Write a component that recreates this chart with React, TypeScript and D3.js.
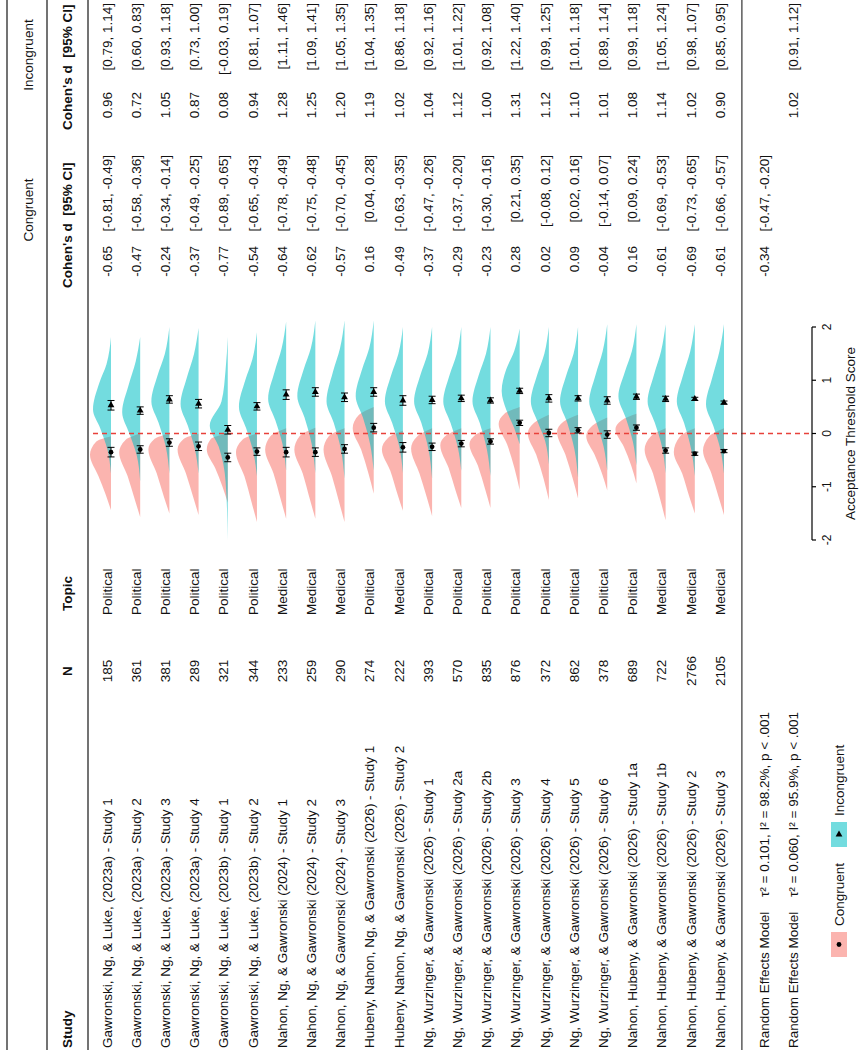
import React from "react";
import * as d3 from "d3";

const studies = [
  "Gawronski, Ng, & Luke, (2023a) - Study 1",
  "Gawronski, Ng, & Luke, (2023a) - Study 2",
  "Gawronski, Ng, & Luke, (2023a) - Study 3",
  "Gawronski, Ng, & Luke, (2023a) - Study 4",
  "Gawronski, Ng, & Luke, (2023b) - Study 1",
  "Gawronski, Ng, & Luke, (2023b) - Study 2",
  "Nahon, Ng, & Gawronski (2024) - Study 1",
  "Nahon, Ng, & Gawronski (2024) - Study 2",
  "Nahon, Ng, & Gawronski (2024) - Study 3",
  "Hubeny, Nahon, Ng, & Gawronski (2026) - Study 1",
  "Hubeny, Nahon, Ng, & Gawronski (2026) - Study 2",
  "Ng, Wurzinger, & Gawronski (2026) - Study 1",
  "Ng, Wurzinger, & Gawronski (2026) - Study 2a",
  "Ng, Wurzinger, & Gawronski (2026) - Study 2b",
  "Ng, Wurzinger, & Gawronski (2026) - Study 3",
  "Ng, Wurzinger, & Gawronski (2026) - Study 4",
  "Ng, Wurzinger, & Gawronski (2026) - Study 5",
  "Ng, Wurzinger, & Gawronski (2026) - Study 6",
  "Nahon, Hubeny, & Gawronski (2026) - Study 1a",
  "Nahon, Hubeny, & Gawronski (2026) - Study 1b",
  "Nahon, Hubeny, & Gawronski (2026) - Study 2",
  "Nahon, Hubeny, & Gawronski (2026) - Study 3",
];
const sampleN = [185, 361, 381, 289, 321, 344, 233, 259, 290, 274, 222, 393, 570, 835, 876, 372, 862, 378, 689, 722, 2766, 2105];
const topics = ["Political", "Political", "Political", "Political", "Political", "Political", "Medical", "Medical", "Medical", "Political", "Medical", "Political", "Political", "Political", "Political", "Political", "Political", "Political", "Political", "Medical", "Medical", "Medical"];

const congD = [-0.65, -0.47, -0.24, -0.37, -0.77, -0.54, -0.64, -0.62, -0.57, 0.16, -0.49, -0.37, -0.29, -0.23, 0.28, 0.02, 0.09, -0.04, 0.16, -0.61, -0.69, -0.61];
const congLo = [-0.81, -0.58, -0.34, -0.49, -0.89, -0.65, -0.78, -0.75, -0.70, 0.04, -0.63, -0.47, -0.37, -0.30, 0.21, -0.08, 0.02, -0.14, 0.09, -0.69, -0.73, -0.66];
const congHi = [-0.49, -0.36, -0.14, -0.25, -0.65, -0.43, -0.49, -0.48, -0.45, 0.28, -0.35, -0.26, -0.20, -0.16, 0.35, 0.12, 0.16, 0.07, 0.24, -0.53, -0.65, -0.57];
const incD = [0.96, 0.72, 1.05, 0.87, 0.08, 0.94, 1.28, 1.25, 1.20, 1.19, 1.02, 1.04, 1.12, 1.00, 1.31, 1.12, 1.10, 1.01, 1.08, 1.14, 1.02, 0.90];
const incLo = [0.79, 0.60, 0.93, 0.73, -0.03, 0.81, 1.11, 1.09, 1.05, 1.04, 0.86, 0.92, 1.01, 0.92, 1.22, 0.99, 1.01, 0.89, 0.99, 1.05, 0.98, 0.85];
const incHi = [1.14, 0.83, 1.18, 1.00, 0.19, 1.07, 1.46, 1.41, 1.35, 1.35, 1.18, 1.16, 1.22, 1.08, 1.40, 1.25, 1.18, 1.14, 1.18, 1.24, 1.07, 0.95];

// mean acceptance threshold scores (points) and half-width of their CI
const congMean = [-0.35, -0.30, -0.17, -0.24, -0.45, -0.34, -0.35, -0.35, -0.29, 0.11, -0.26, -0.25, -0.19, -0.15, 0.20, 0.01, 0.06, -0.02, 0.11, -0.32, -0.38, -0.33];
const incMean = [0.53, 0.43, 0.64, 0.56, 0.07, 0.51, 0.73, 0.78, 0.68, 0.78, 0.62, 0.63, 0.66, 0.62, 0.80, 0.66, 0.66, 0.62, 0.69, 0.65, 0.65, 0.58];
const congCI = [0.09, 0.07, 0.07, 0.08, 0.08, 0.07, 0.09, 0.08, 0.08, 0.08, 0.09, 0.07, 0.06, 0.05, 0.05, 0.07, 0.05, 0.07, 0.05, 0.05, 0.03, 0.03];
const incCI = [0.09, 0.07, 0.07, 0.08, 0.08, 0.07, 0.09, 0.08, 0.08, 0.08, 0.09, 0.07, 0.06, 0.05, 0.05, 0.07, 0.05, 0.07, 0.05, 0.05, 0.03, 0.03];

// density knots [score, relative height]
const incDensity = [
  [[1.81, 0], [1.3, 0.25], [0.95, 0.65], [0.45, 1], [0.1, 0.6], [-0.3, 0.2], [-0.75, 0]],
  [[1.81, 0], [1.35, 0.25], [0.9, 0.65], [0.4, 1], [0.0, 0.6], [-0.4, 0.2], [-0.9, 0]],
  [[2.0, 0], [1.5, 0.25], [1.1, 0.65], [0.6, 1], [0.2, 0.6], [-0.25, 0.2], [-0.75, 0]],
  [[1.98, 0], [1.5, 0.25], [1.05, 0.65], [0.55, 1], [0.15, 0.6], [-0.3, 0.2], [-0.75, 0]],
  [[1.81, 0], [1.2, 0.12], [0.6, 0.35], [0.15, 1], [-0.25, 0.5], [-0.9, 0.12], [-2.0, 0]],
  [[1.9, 0], [1.4, 0.25], [1.0, 0.65], [0.5, 1], [0.1, 0.6], [-0.35, 0.2], [-0.8, 0]],
  [[2.1, 0], [1.6, 0.25], [1.15, 0.65], [0.65, 1], [0.25, 0.6], [-0.2, 0.2], [-0.7, 0]],
  [[2.12, 0], [1.6, 0.25], [1.2, 0.65], [0.7, 1], [0.3, 0.6], [-0.2, 0.2], [-0.74, 0]],
  [[2.12, 0], [1.6, 0.25], [1.15, 0.65], [0.6, 1], [0.2, 0.6], [-0.3, 0.2], [-0.85, 0]],
  [[2.12, 0], [1.6, 0.25], [1.2, 0.65], [0.7, 1], [0.3, 0.6], [-0.2, 0.2], [-0.7, 0]],
  [[2.0, 0], [1.5, 0.25], [1.1, 0.65], [0.6, 1], [0.2, 0.6], [-0.25, 0.2], [-0.74, 0]],
  [[2.0, 0], [1.5, 0.25], [1.1, 0.65], [0.6, 1], [0.2, 0.6], [-0.3, 0.2], [-0.85, 0]],
  [[2.0, 0], [1.5, 0.25], [1.1, 0.65], [0.6, 1], [0.2, 0.6], [-0.25, 0.2], [-0.7, 0]],
  [[2.0, 0], [1.5, 0.25], [1.1, 0.65], [0.6, 1], [0.2, 0.6], [-0.3, 0.2], [-0.8, 0]],
  [[1.97, 0], [1.55, 0.3], [1.2, 0.75], [0.8, 1], [0.45, 0.75], [0.1, 0.3], [-0.2, 0]],
  [[2.0, 0], [1.5, 0.25], [1.1, 0.65], [0.6, 1], [0.2, 0.6], [-0.15, 0.2], [-0.58, 0]],
  [[2.0, 0], [1.5, 0.25], [1.1, 0.65], [0.6, 1], [0.2, 0.6], [-0.3, 0.2], [-0.83, 0]],
  [[2.05, 0], [1.55, 0.25], [1.1, 0.65], [0.6, 1], [0.2, 0.6], [-0.25, 0.2], [-0.7, 0]],
  [[2.05, 0], [1.55, 0.25], [1.15, 0.65], [0.7, 1], [0.3, 0.6], [-0.15, 0.2], [-0.6, 0]],
  [[2.05, 0], [1.55, 0.25], [1.1, 0.65], [0.6, 1], [0.2, 0.6], [-0.25, 0.2], [-0.75, 0]],
  [[2.05, 0], [1.55, 0.25], [1.1, 0.65], [0.6, 1], [0.2, 0.6], [-0.3, 0.2], [-0.8, 0]],
  [[2.05, 0], [1.55, 0.25], [1.05, 0.65], [0.55, 1], [0.15, 0.6], [-0.3, 0.2], [-0.75, 0]],
];
const congDensity = [
  [[-0.05, 0], [-0.15, 0.7], [-0.4, 1], [-0.8, 0.6], [-1.15, 0.25], [-1.44, 0]],
  [[0.0, 0], [-0.12, 0.7], [-0.35, 1], [-0.8, 0.6], [-1.25, 0.25], [-1.57, 0]],
  [[0.0, 0], [-0.1, 0.7], [-0.3, 1], [-0.75, 0.6], [-1.2, 0.25], [-1.5, 0]],
  [[0.0, 0], [-0.1, 0.7], [-0.3, 1], [-0.75, 0.6], [-1.2, 0.25], [-1.53, 0]],
  [[0.0, 0], [-0.1, 0.8], [-0.3, 1], [-0.65, 0.6], [-1.0, 0.25], [-1.3, 0]],
  [[0.0, 0], [-0.12, 0.7], [-0.35, 1], [-0.8, 0.6], [-1.3, 0.25], [-1.66, 0]],
  [[0.1, 0], [-0.05, 0.75], [-0.3, 1], [-0.75, 0.6], [-1.25, 0.25], [-1.6, 0]],
  [[0.11, 0], [-0.05, 0.75], [-0.3, 1], [-0.75, 0.6], [-1.25, 0.25], [-1.6, 0]],
  [[0.1, 0], [-0.05, 0.75], [-0.3, 1], [-0.8, 0.6], [-1.3, 0.25], [-1.66, 0]],
  [[0.5, 0], [0.35, 0.7], [0.1, 1], [-0.3, 0.6], [-0.75, 0.25], [-1.13, 0]],
  [[0.05, 0], [-0.08, 0.7], [-0.3, 1], [-0.7, 0.6], [-1.15, 0.25], [-1.45, 0]],
  [[0.1, 0], [-0.05, 0.7], [-0.28, 1], [-0.75, 0.6], [-1.2, 0.25], [-1.55, 0]],
  [[0.1, 0], [-0.03, 0.7], [-0.22, 1], [-0.65, 0.6], [-1.1, 0.25], [-1.4, 0]],
  [[0.1, 0], [-0.02, 0.7], [-0.2, 1], [-0.6, 0.6], [-1.05, 0.25], [-1.4, 0]],
  [[0.5, 0], [0.38, 0.7], [0.18, 1], [-0.2, 0.6], [-0.65, 0.25], [-1.06, 0]],
  [[0.35, 0], [0.2, 0.7], [0.0, 1], [-0.4, 0.6], [-0.85, 0.25], [-1.25, 0]],
  [[0.35, 0], [0.22, 0.7], [0.03, 1], [-0.4, 0.6], [-0.85, 0.25], [-1.22, 0]],
  [[0.3, 0], [0.15, 0.7], [-0.05, 1], [-0.4, 0.6], [-0.75, 0.25], [-1.07, 0]],
  [[0.37, 0], [0.25, 0.7], [0.08, 1], [-0.25, 0.6], [-0.6, 0.25], [-0.94, 0]],
  [[0.1, 0], [-0.05, 0.7], [-0.3, 1], [-0.75, 0.6], [-1.25, 0.25], [-1.63, 0]],
  [[0.1, 0], [-0.05, 0.7], [-0.35, 1], [-0.75, 0.6], [-1.2, 0.25], [-1.5, 0]],
  [[0.1, 0], [-0.05, 0.7], [-0.32, 1], [-0.75, 0.6], [-1.2, 0.25], [-1.53, 0]],
];

const reLabels = ["Random Effects Model", "Random Effects Model"];
const reStats = ["τ² = 0.101, I² = 98.2%, p < .001", "τ² = 0.060, I² = 95.9%, p < .001"];
const reCong = [-0.34, -0.47, -0.20];
const reInc = [1.02, 0.91, 1.12];
const axisTicks = [-2, -1, 0, 1, 2];
const legendLabels = ["Congruent", "Incongruent"];

const PINK = "#F8766D";
const TEAL = "#00BFC4";
const FONT = "'Liberation Sans', Arial, Helvetica, sans-serif";

const f2 = (v: number) => v.toFixed(2);
const ci = (lo: number, hi: number) => `[${f2(lo)}, ${f2(hi)}]`;

export default function App() {
  const W = 1055; // unrotated width
  const row = d3.scaleLinear().domain([0, 21]).range([107, 720]);
  const x = d3.scaleLinear().domain([-2, 2]).range([515, 728]);
  const hInc = d3.scaleLinear().domain([0, 1]).range([0, 18]);
  const hCong = d3.scaleLinear().domain([0, 1]).range([0, 21]);
  const base = (i: number) => row(i) + 4;

  const areaFor = (i: number, hs: any) =>
    d3
      .area<number[]>()
      .x((d) => x(d[0]))
      .y0(base(i))
      .y1((d) => base(i) - hs(d[1]))
      .curve(d3.curveMonotoneX);

  const sortKnots = (k: number[][]) => [...k].sort((a, b) => a[0] - b[0]);
  const tri = d3.symbol().type(d3.symbolTriangle).size(20);
  const yAxis = 812;
  const re1 = row(22.5);
  const re2 = row(23.5);

  const txt = { fontFamily: FONT, fontSize: 13.5, fill: "#111" } as any;
  const bold = { ...txt, fontWeight: "bold" };

  return (
    <svg width={859} height={1055} style={{ position: "absolute", left: 0, top: 0, background: "#fff" }}>
      <g transform={`translate(0,${W}) rotate(-90)`}>
        {/* header lines */}
        {[7, 47, 88].map((yy, k) => (
          <line key={k} x1={5} x2={W} y1={yy} y2={yy} stroke="#444" strokeWidth={1.5} />
        ))}
        <text {...txt} x={845} y={28} dy="0.35em" textAnchor="middle">Congruent</text>
        <text {...txt} x={1000} y={28} dy="0.35em" textAnchor="middle">Incongruent</text>
        <text {...bold} x={7} y={67} dy="0.35em">Study</text>
        <text {...bold} x={384} y={67} dy="0.35em" textAnchor="middle">N</text>
        <text {...bold} x={444} y={67} dy="0.35em">Topic</text>
        <text {...bold} x={767} y={67} dy="0.35em" style={{ whiteSpace: "pre" }}>{"Cohen's d  [95% CI]"}</text>
        <text {...bold} x={925} y={67} dy="0.35em" style={{ whiteSpace: "pre" }}>{"Cohen's d  [95% CI]"}</text>

        {/* densities */}
        {studies.map((_, i) => (
          <g key={"d" + i}>
            <path d={areaFor(i, hCong)(sortKnots(congDensity[i])) as string} fill={PINK} fillOpacity={0.55} />
            <path d={areaFor(i, hInc)(sortKnots(incDensity[i])) as string} fill={TEAL} fillOpacity={0.55} />
          </g>
        ))}

        {/* zero line */}
        <line x1={x(0)} x2={x(0)} y1={93} y2={yAxis} stroke="#E8413B" strokeWidth={1.4} strokeDasharray="5,4" />

        {/* points */}
        {studies.map((_, i) => {
          const y = base(i);
          return (
            <g key={"p" + i} stroke="#000" strokeWidth={1}>
              <line x1={x(congMean[i] - congCI[i])} x2={x(congMean[i] + congCI[i])} y1={y} y2={y} />
              <line x1={x(congMean[i] - congCI[i])} x2={x(congMean[i] - congCI[i])} y1={y - 3.5} y2={y + 3.5} />
              <line x1={x(congMean[i] + congCI[i])} x2={x(congMean[i] + congCI[i])} y1={y - 3.5} y2={y + 3.5} />
              <circle cx={x(congMean[i])} cy={y} r={2.4} fill="#000" stroke="none" />
              <line x1={x(incMean[i] - incCI[i])} x2={x(incMean[i] + incCI[i])} y1={y} y2={y} />
              <line x1={x(incMean[i] - incCI[i])} x2={x(incMean[i] - incCI[i])} y1={y - 3.5} y2={y + 3.5} />
              <line x1={x(incMean[i] + incCI[i])} x2={x(incMean[i] + incCI[i])} y1={y - 3.5} y2={y + 3.5} />
              <path d={tri() as string} transform={`translate(${x(incMean[i])},${y}) rotate(90)`} fill="#000" stroke="none" />
            </g>
          );
        })}

        {/* table rows */}
        {studies.map((s, i) => {
          const y = row(i);
          return (
            <g key={"t" + i}>
              <text {...txt} x={7} y={y} dy="0.35em">{s}</text>
              <text {...txt} x={384} y={y} dy="0.35em" textAnchor="middle">{sampleN[i]}</text>
              <text {...txt} x={440} y={y} dy="0.35em">{topics[i]}</text>
              <text {...txt} x={809} y={y} dy="0.35em" textAnchor="end">{f2(congD[i])}</text>
              <text {...txt} x={900} y={y} dy="0.35em" textAnchor="end">{ci(congLo[i], congHi[i])}</text>
              <text {...txt} x={963} y={y} dy="0.35em" textAnchor="end">{f2(incD[i])}</text>
              <text {...txt} x={1052} y={y} dy="0.35em" textAnchor="end">{ci(incLo[i], incHi[i])}</text>
            </g>
          );
        })}

        {/* separator */}
        <line x1={5} x2={W} y1={row(21.75)} y2={row(21.75)} stroke="#333" strokeWidth={1.2} />

        {/* random effects */}
        {[re1, re2].map((yy, k) => (
          <g key={"re" + k}>
            <text {...txt} x={7} y={yy} dy="0.35em">{reLabels[k]}</text>
            <text {...txt} x={158} y={yy} dy="0.35em">{reStats[k]}</text>
          </g>
        ))}
        <text {...txt} x={809} y={re1} dy="0.35em" textAnchor="end">{f2(reCong[0])}</text>
        <text {...txt} x={900} y={re1} dy="0.35em" textAnchor="end">{ci(reCong[1], reCong[2])}</text>
        <text {...txt} x={963} y={re2} dy="0.35em" textAnchor="end">{f2(reInc[0])}</text>
        <text {...txt} x={1052} y={re2} dy="0.35em" textAnchor="end">{ci(reInc[1], reInc[2])}</text>

        {/* axis */}
        <line x1={x(-2)} x2={x(2)} y1={yAxis} y2={yAxis} stroke="#000" strokeWidth={1.2} />
        {axisTicks.map((t) => (
          <g key={"tk" + t}>
            <line x1={x(t)} x2={x(t)} y1={yAxis} y2={yAxis + 4} stroke="#000" strokeWidth={1.2} />
            <text {...txt} fontSize={12} x={x(t)} y={yAxis + 15} dy="0.35em" textAnchor="middle">{t}</text>
          </g>
        ))}
        <text {...txt} x={x(0)} y={850} dy="0.35em" textAnchor="middle">Acceptance Threshold Score</text>

        {/* legend */}
        <rect x={98} y={831} width={25} height={16} fill={PINK} fillOpacity={0.55} />
        <circle cx={110.5} cy={839} r={2.4} fill="#000" />
        <text {...txt} x={129} y={839} dy="0.35em">{legendLabels[0]}</text>
        <rect x={208} y={831} width={25} height={16} fill={TEAL} fillOpacity={0.55} />
        <path d={tri() as string} transform={`translate(220.5,839) rotate(90)`} fill="#000" />
        <text {...txt} x={239} y={839} dy="0.35em">{legendLabels[1]}</text>
      </g>
    </svg>
  );
}
